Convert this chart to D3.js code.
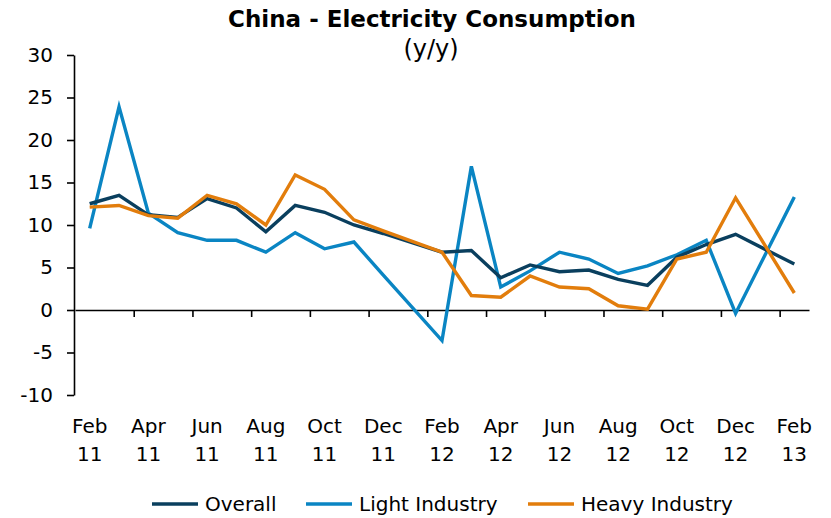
<!DOCTYPE html>
<html>
<head>
<meta charset="utf-8">
<script src="https://cdn.jsdelivr.net/npm/d3@7"></script>
<style>
  html, body { margin: 0; padding: 0; background: #fff; }
  svg { display: block; font-family: "DejaVu Sans", Verdana, sans-serif; }
</style>
</head>
<body>
<svg id="chart" width="831" height="518"></svg>
<script>
// ---- Data ----
const months = ["Feb 11","Mar 11","Apr 11","May 11","Jun 11","Jul 11","Aug 11","Sep 11","Oct 11","Nov 11","Dec 11","Jan 12",
                "Feb 12","Mar 12","Apr 12","May 12","Jun 12","Jul 12","Aug 12","Sep 12","Oct 12","Nov 12","Dec 12","Jan 13","Feb 13"];
const overall  = [12.5, 13.5, 11.2, 10.9, 13.1, 12.0, 9.2, 12.3, 11.5, 10.0, 9.0, null,
                  6.8, 7.0, 3.8, 5.3, 4.5, 4.7, 3.6, 2.9, 6.2, 7.7, 8.9, null, 5.4];
const light    = [9.6, 23.9, 11.4, 9.1, 8.2, 8.2, 6.8, 9.1, 7.2, 8.0, 4.1, null,
                  -3.6, 16.9, 2.7, 4.6, 6.8, 6.0, 4.3, 5.2, 6.5, 8.2, -0.4, null, 13.3];
const heavy    = [12.1, 12.3, 11.1, 10.8, 13.5, 12.5, 10.0, 15.9, 14.2, 10.6, 9.3, null,
                  6.8, 1.7, 1.5, 4.0, 2.7, 2.5, 0.5, 0.1, 6.0, 6.8, 13.2, null, 2.0];
const seriesNames = ["Overall", "Light Industry", "Heavy Industry"];
const seriesColors = ["#0a3f5e", "#0a85c3", "#e27d0c"];
const yTicks = [-10, -5, 0, 5, 10, 15, 20, 25, 30];
const xTickLabels = [["Feb","11"],["Apr","11"],["Jun","11"],["Aug","11"],["Oct","11"],["Dec","11"],
                     ["Feb","12"],["Apr","12"],["Jun","12"],["Aug","12"],["Oct","12"],["Dec","12"],["Feb","13"]];

(function () {
// ---- Layout ----
const svg = d3.select("#chart");
const pLeft = 75, pRight = 809, pTop = 55, pBottom = 395;

const x = d3.scaleBand().domain(months).range([pLeft, pRight]).padding(0);
const xEdge = d3.scaleLinear().domain([0, months.length]).range([pLeft, pRight]);
const y = d3.scaleLinear().domain([-10, 30]).range([pBottom, pTop]);
const cx = m => x(m) + x.bandwidth() / 2;

// Title
svg.append("text").attr("x", 432).attr("y", 27).attr("text-anchor", "middle")
  .attr("font-size", 23).attr("font-weight", "bold").attr("fill", "#000")
  .text("China - Electricity Consumption");
svg.append("text").attr("x", 431).attr("y", 57).attr("text-anchor", "middle")
  .attr("font-size", 24).attr("fill", "#000")
  .text("(y/y)");

// Y axis
const yAxis = svg.append("g").attr("transform", `translate(${pLeft - 1},0)`)
  .call(d3.axisLeft(y).tickValues(yTicks).tickSize(7).tickSizeOuter(0).tickPadding(14)
        .tickFormat(d => String(d)));
yAxis.select(".domain").attr("stroke", "#000").attr("stroke-width", 1.6);
yAxis.selectAll(".tick line").attr("stroke", "#000").attr("stroke-width", 1.6);
yAxis.selectAll(".tick text").attr("font-size", 20).attr("fill", "#000")
  .attr("font-family", "DejaVu Sans, Verdana, sans-serif");

// X axis at y = 0
const tickIdx = d3.range(2, months.length, 2);
const xAxis = svg.append("g").attr("transform", `translate(0,${y(0)})`)
  .call(d3.axisBottom(xEdge).tickValues(tickIdx).tickSize(7).tickSizeOuter(0).tickFormat(""));
xAxis.select(".domain").attr("stroke", "#000").attr("stroke-width", 1.6);
xAxis.selectAll(".tick line").attr("stroke", "#000").attr("stroke-width", 1.6);

// X labels (two lines)
const labelMonths = months.filter((m, i) => i % 2 === 0);
const xl = svg.append("g").attr("font-size", 20).attr("fill", "#000").attr("text-anchor", "middle");
labelMonths.forEach((m, i) => {
  const t = xl.append("text").attr("x", cx(m)).attr("y", 433);
  t.append("tspan").attr("x", cx(m)).attr("y", 433).text(xTickLabels[i][0]);
  t.append("tspan").attr("x", cx(m)).attr("y", 461).text(xTickLabels[i][1]);
});

// Lines
const allSeries = [overall, light, heavy];
const line = d3.line().x(d => cx(d.m)).y(d => y(d.v));
const order = [1, 0, 2];
order.forEach(si => {
  const pts = months.map((m, i) => ({m, v: allSeries[si][i]})).filter(d => d.v !== null);
  svg.append("path").datum(pts)
    .attr("fill", "none").attr("stroke", seriesColors[si])
    .attr("stroke-width", 3.4).attr("stroke-linejoin", "miter")
    .attr("d", line);
});

// Legend
const legX = [152, 306, 528];
const lg = svg.append("g");
seriesNames.forEach((name, i) => {
  lg.append("line").attr("x1", legX[i]).attr("x2", legX[i] + 46)
    .attr("y1", 504).attr("y2", 504)
    .attr("stroke", seriesColors[i]).attr("stroke-width", 3.4);
  lg.append("text").attr("x", legX[i] + 53).attr("y", 511)
    .attr("font-size", 20).attr("fill", "#000").text(name);
});
})();
</script>
</body>
</html>
